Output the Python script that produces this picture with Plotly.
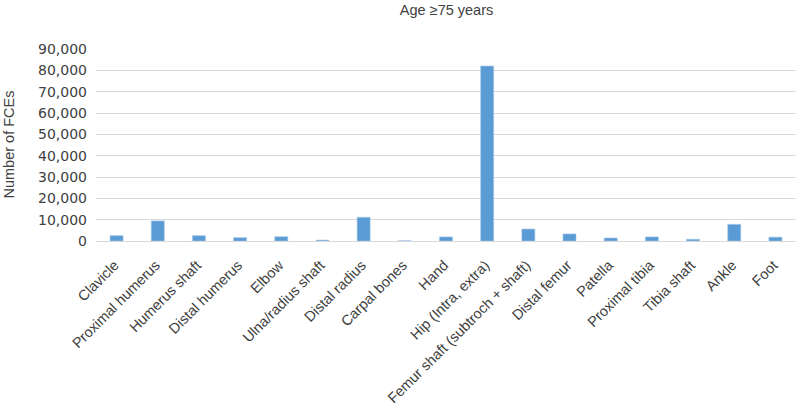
import plotly.graph_objects as go

categories = ["Clavicle", "Proximal humerus", "Humerus shaft", "Distal humerus", "Elbow",
              "Ulna/radius shaft", "Distal radius", "Carpal bones", "Hand", "Hip (Intra, extra)",
              "Femur shaft (subtroch + shaft)", "Distal femur", "Patella", "Proximal tibia",
              "Tibia shaft", "Ankle", "Foot"]
values = [2500, 9400, 2500, 1550, 2000, 400, 11100, 100, 1900, 82000,
          5600, 3300, 1400, 1900, 800, 7800, 1800]
y_ticks = [0, 10000, 20000, 30000, 40000, 50000, 60000, 70000, 80000, 90000]

font_family = "Liberation Sans, Arial, sans-serif"
num_family = "DejaVu Sans, sans-serif"
text_color = "#404040"

fig = go.Figure(go.Bar(
    x=categories, y=values,
    marker=dict(color="#5b9bd5", line=dict(color="#9dc3e6", width=0.6)),
))

fig.update_layout(
    width=796, height=413,
    margin=dict(l=96, r=0, t=49, b=172),
    paper_bgcolor="white", plot_bgcolor="white",
    bargap=0.685,
    showlegend=False,
    title=dict(text="Age ≥75 years", x=0.561, xanchor="center", xref="container",
               y=0.975, yanchor="middle", yref="container",
               font=dict(family=font_family, size=14.5, color=text_color)),
    font=dict(family=font_family, color=text_color),
    annotations=[dict(text="Number of FCEs", textangle=-90, xref="paper", yref="paper",
                      x=0, y=0.5, xanchor="center", yanchor="middle", xshift=-87.5,
                      showarrow=False, font=dict(family=font_family, size=14.5, color=text_color))],
)
fig.update_xaxes(
    tickangle=-45, tickfont=dict(family=font_family, size=14.5, color=text_color),
    ticklabelstandoff=12, ticklabelshift=-2,
    showgrid=False, showline=False, automargin=False, ticks="",
)
fig.update_yaxes(
    range=[0, 90000], tickvals=y_ticks, tickformat=",",
    tickfont=dict(family=num_family, size=14, color=text_color),
    ticklabelstandoff=8,
    showgrid=True, gridcolor="#d9d9d9", gridwidth=1.2,
    zeroline=True, zerolinecolor="#d9d9d9", zerolinewidth=1.2,
    showline=False, automargin=False, ticks="",
)

fig.write_html("out.html", config={"displayModeBar": False},
               post_script="document.body.style.margin='0';")
